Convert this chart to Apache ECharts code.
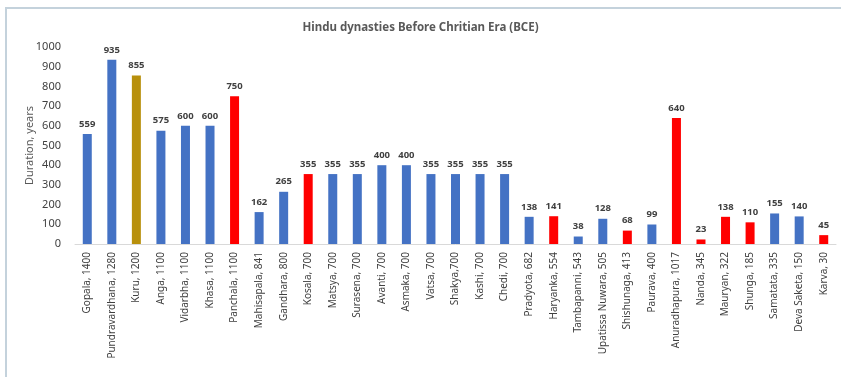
<!DOCTYPE html>
<html>
<head>
<meta charset="utf-8">
<script src="https://cdn.jsdelivr.net/npm/echarts@6/dist/echarts.min.js"></script>
<style>html,body{margin:0;padding:0;background:#fff;}#c{width:841px;height:377px;}</style>
</head>
<body>
<div id="c"></div>
<script>
const categories = ["Gopala, 1400","Pundravardhana, 1280","Kuru, 1200","Anga, 1100","Vidarbha, 1100","Khasa, 1100","Panchala, 1100","Mahisapala, 841","Gandhara, 800","Kosala, 700","Matsya, 700","Surasena, 700","Avanti, 700","Asmaka, 700","Vatsa, 700","Shakya,700","Kashi, 700","Chedi, 700","Pradyota, 682","Haryanka, 554","Tambapanni, 543","Upatissa Nuwara, 505","Shishunaga, 413","Paurava, 400","Anuradhapura, 1017","Nanda, 345","Mauryan, 322","Shunga, 185","Samatata, 335","Deva Saketa, 150","Karva, 30"];
const durations = [559,935,855,575,600,600,750,162,265,355,355,355,400,400,355,355,355,355,138,141,38,128,68,99,640,23,138,110,155,140,45];
const colorGroup = ["b","b","g","b","b","b","r","b","b","r","b","b","b","b","b","b","b","b","b","r","b","b","r","b","r","r","r","r","b","b","r"];
const yTicks = [0,100,200,300,400,500,600,700,800,900,1000];
const palette = {b:"#4472C4", g:"#B8900C", r:"#FF0000"};

const chart = echarts.init(document.getElementById('c'));
const font = "'Noto Sans', sans-serif";
chart.setOption({
  animation:false,
  backgroundColor:'#fff',
  graphic:[{type:'polyline',shape:{points:[[6,377],[6,8],[841,8]]},style:{stroke:'#c4d2dc',lineWidth:2,fill:null}}],
  title:{text:'Hindu dynasties Before Chritian Era (BCE)',left:'center',top:17,textStyle:{fontFamily:font,fontSize:11.5,fontWeight:'bold',color:'#595959'}},
  grid:{left:75,right:5,top:47,bottom:133,containLabel:false},
  xAxis:{type:'category',data:categories,
    axisLine:{lineStyle:{color:'#d9d9d9'}},axisTick:{show:false},
    axisLabel:{rotate:90,interval:0,fontFamily:font,fontSize:10,color:'#404040',margin:8}},
  yAxis:{type:'value',min:0,max:1000,interval:100,
    name:'Duration, years',nameLocation:'middle',nameGap:40,nameRotate:90,nameMoveOverlap:false,
    nameTextStyle:{fontFamily:font,fontSize:11,color:'#595959'},
    axisLine:{show:false},axisTick:{show:false},splitLine:{show:false},
    axisLabel:{fontFamily:font,fontSize:11,color:'#404040',margin:14,
      formatter:v=>yTicks.includes(v)?String(v):''}},
  series:[{type:'bar',barWidth:9,
    data:durations.map((v,i)=>({value:v,itemStyle:{color:palette[colorGroup[i]]}})),
    label:{show:true,position:'top',distance:5,fontFamily:font,fontSize:9.5,fontWeight:'bold',color:'#404040'}}]
});
</script>
</body>
</html>
